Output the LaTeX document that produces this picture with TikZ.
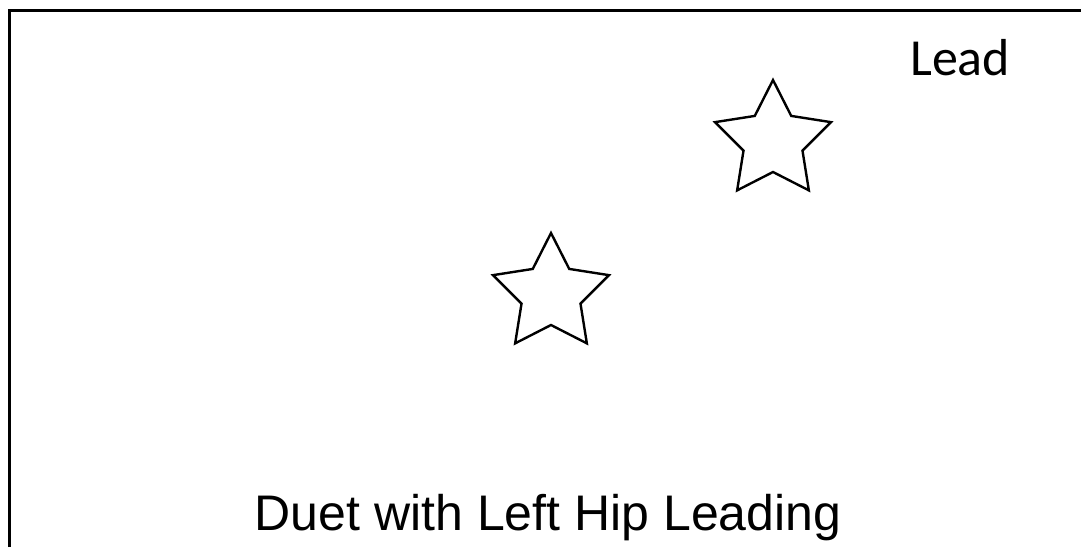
\documentclass[tikz,border=0pt]{standalone}
\usepackage{fontspec}
\setmainfont{Liberation Sans}
\newfontfamily\leadfont{Carlito}
\begin{document}
\begin{tikzpicture}[x=1pt,y=-1pt,
  frame/.style={line width=3pt,black},
  starline/.style={line width=2.4pt,black,line join=miter},
  title/.style={font=\fontsize{50}{60}\selectfont,inner sep=0pt,anchor=base},
  leadlbl/.style={font=\leadfont\fontsize{52}{60}\selectfont,inner sep=0pt,anchor=base west}]
\useasboundingbox (0,0) rectangle (1081,547);
\fill[white] (0,0) rectangle (1081,547);
% frame (left and top edges)
\draw[frame] (9,547) -- (9,10) -- (1081,10);
% stars
\foreach \cx/\cy in {773/141, 551/294}{
  \draw[starline] ({\cx+61*cos(90)},{\cy-61*sin(90)})
    \foreach \k in {1,...,9}{
      -- ({\cx+ (mod(\k,2)==0 ? 61 : 31)*cos(90+36*\k)},{\cy-(mod(\k,2)==0 ? 61 : 31)*sin(90+36*\k)})
    } -- cycle;
}
\node[leadlbl] (lead) at (910,75) {Lead};
\node[title] (cap) at (548,530) {Duet with Left Hip Leading};
\end{tikzpicture}
\end{document}
